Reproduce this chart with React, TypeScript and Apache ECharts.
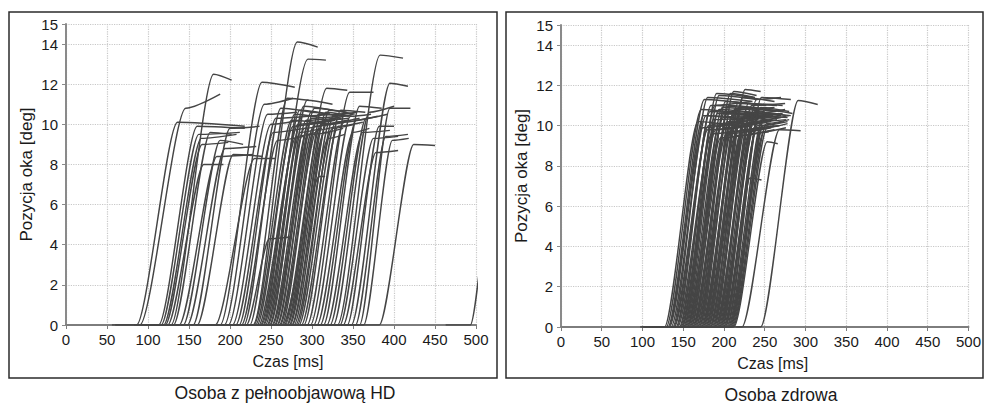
import React, { useEffect, useRef } from "react";
import * as echarts from "echarts";

// Axis ranges / ticks
const X_MIN = 0;
const X_MAX = 500;
const X_STEP = 50;
const Y_MIN = 0;
const Y_MAX = 15;
const Y_STEP = 2;

const X_NAME = "Czas [ms]";
const Y_NAME = "Pozycja oka [deg]";
const PANEL_TITLES = ["Osoba z pełnoobjawową HD", "Osoba zdrowa"];

// Each saccade trace: [onset ms, peak time ms, peak deg, end time ms, end deg]
const HD_TRACES: number[][] = [
  [86, 136, 10.1, 218, 9.9],
  [90, 146, 10.8, 188, 11.5],
  [113, 160, 9.9, 218, 9.8],
  [116, 162, 9.5, 212, 9.6],
  [119, 165, 9.3, 208, 9.5],
  [121, 166, 9.0, 198, 9.1],
  [124, 168, 8.0, 192, 8.0],
  [128, 180, 12.5, 202, 12.2],
  [131, 176, 9.6, 202, 9.5],
  [138, 184, 8.4, 228, 8.5],
  [143, 188, 9.2, 216, 9.0],
  [148, 194, 8.8, 232, 8.9],
  [155, 200, 9.8, 236, 9.9],
  [160, 204, 8.5, 240, 8.4],
  [182, 230, 8.3, 256, 8.3],
  [188, 239, 12.1, 279, 11.85],
  [193, 242, 11.0, 277, 11.3],
  [198, 246, 10.5, 282, 10.6],
  [203, 250, 10.0, 286, 10.2],
  [207, 253, 9.6, 290, 9.8],
  [211, 256, 10.3, 295, 10.4],
  [214, 258, 9.2, 290, 9.4],
  [217, 262, 10.8, 300, 10.6],
  [220, 248, 4.3, 275, 4.4],
  [224, 270, 11.3, 296, 11.2],
  [228, 282, 14.1, 307, 13.85],
  [229, 275, 10.2, 320, 10.0],
  [231, 277, 9.9, 310, 10.1],
  [233, 279, 10.5, 315, 10.3],
  [235, 281, 9.4, 305, 9.6],
  [237, 283, 10.0, 320, 10.2],
  [238, 295, 13.25, 317, 13.2],
  [240, 285, 10.7, 322, 10.5],
  [241, 286, 9.6, 312, 9.8],
  [243, 288, 10.4, 322, 10.5],
  [245, 290, 10.9, 325, 10.7],
  [246, 291, 9.8, 318, 10.0],
  [248, 293, 10.2, 330, 10.3],
  [249, 294, 11.2, 325, 11.0],
  [251, 296, 10.0, 328, 10.2],
  [252, 297, 9.5, 322, 9.6],
  [254, 299, 10.6, 335, 10.4],
  [255, 300, 10.3, 332, 10.4],
  [257, 302, 9.9, 340, 10.1],
  [258, 303, 10.8, 342, 10.6],
  [260, 305, 10.1, 336, 10.3],
  [261, 306, 9.7, 330, 9.9],
  [263, 308, 10.5, 345, 10.4],
  [264, 309, 7.4, 316, 7.4],
  [266, 311, 10.0, 344, 10.2],
  [267, 318, 11.8, 343, 11.7],
  [269, 314, 10.2, 345, 10.3],
  [270, 315, 9.6, 338, 9.8],
  [272, 317, 10.6, 348, 10.4],
  [273, 318, 10.0, 345, 10.2],
  [275, 320, 9.3, 340, 9.5],
  [276, 321, 10.7, 352, 10.5],
  [278, 323, 10.3, 350, 10.5],
  [280, 325, 9.8, 352, 10.0],
  [282, 327, 10.5, 355, 10.6],
  [284, 329, 10.1, 358, 10.3],
  [287, 332, 9.9, 362, 10.1],
  [290, 335, 10.7, 365, 10.6],
  [294, 339, 10.1, 368, 10.3],
  [298, 346, 11.6, 375, 11.6],
  [302, 347, 10.4, 372, 10.5],
  [306, 350, 9.6, 370, 9.8],
  [310, 354, 10.2, 380, 10.4],
  [314, 358, 10.9, 385, 10.8],
  [318, 362, 9.6, 395, 9.7],
  [322, 366, 10.3, 392, 10.5],
  [326, 370, 10.6, 400, 10.9],
  [331, 383, 13.45, 411, 13.3],
  [334, 375, 9.3, 405, 9.4],
  [338, 378, 8.6, 405, 8.7],
  [343, 382, 9.9, 400, 9.9],
  [348, 395, 12.05, 417, 11.9],
  [353, 390, 9.4, 417, 9.5],
  [358, 395, 10.8, 420, 10.8],
  [363, 398, 9.2, 418, 9.3],
  [382, 424, 9.0, 450, 8.95],
  [493, 525, 9.0, 540, 9.0],
];

const HEALTHY_TRACES: number[][] = [
  [127, 168, 10.2, 214, 10.0],
  [129, 172, 10.8, 222, 10.6],
  [131, 176, 11.3, 228, 11.1],
  [132, 175, 10.5, 224, 10.3],
  [133, 174, 9.9, 218, 10.1],
  [135, 178, 10.5, 230, 10.4],
  [137, 180, 11.4, 235, 11.2],
  [138, 180, 9.8, 230, 10.0],
  [139, 181, 10.0, 226, 10.2],
  [141, 183, 10.7, 236, 10.5],
  [142, 184, 11.0, 233, 11.2],
  [143, 185, 9.6, 230, 9.8],
  [145, 187, 10.3, 240, 10.4],
  [146, 189, 11.0, 242, 10.8],
  [147, 190, 10.1, 238, 10.3],
  [148, 190, 9.8, 235, 10.0],
  [149, 191, 11.6, 236, 11.4],
  [150, 192, 10.6, 245, 10.5],
  [151, 194, 11.5, 240, 11.3],
  [152, 194, 10.8, 246, 10.6],
  [153, 195, 10.1, 242, 10.3],
  [154, 196, 9.4, 238, 9.6],
  [155, 197, 10.0, 244, 10.2],
  [156, 198, 10.9, 250, 10.7],
  [157, 199, 10.4, 246, 10.5],
  [158, 200, 10.6, 250, 10.4],
  [159, 201, 9.9, 244, 10.1],
  [160, 202, 11.2, 252, 11.0],
  [161, 203, 9.6, 246, 9.8],
  [162, 204, 10.2, 248, 10.4],
  [163, 205, 10.7, 255, 10.6],
  [164, 206, 11.0, 256, 10.8],
  [165, 207, 9.7, 250, 9.9],
  [166, 208, 11.6, 238, 11.4],
  [167, 209, 10.3, 254, 10.5],
  [168, 210, 10.5, 258, 10.4],
  [169, 211, 10.0, 252, 10.2],
  [170, 212, 11.7, 240, 11.5],
  [171, 213, 10.8, 262, 10.9],
  [172, 214, 9.5, 255, 9.7],
  [173, 215, 10.1, 258, 10.3],
  [174, 216, 10.3, 260, 10.5],
  [175, 217, 11.1, 265, 11.0],
  [176, 218, 10.9, 264, 10.7],
  [177, 219, 10.0, 258, 10.2],
  [178, 220, 10.6, 266, 10.4],
  [179, 221, 10.4, 262, 10.6],
  [180, 222, 9.8, 262, 10.0],
  [181, 223, 11.4, 262, 11.2],
  [182, 224, 9.7, 258, 9.9],
  [183, 225, 10.4, 268, 10.6],
  [184, 226, 11.8, 245, 11.7],
  [185, 227, 10.6, 270, 10.5],
  [186, 228, 10.1, 265, 10.3],
  [187, 229, 10.9, 270, 10.7],
  [188, 230, 11.1, 272, 11.0],
  [189, 231, 9.6, 262, 9.8],
  [190, 232, 10.5, 272, 10.6],
  [191, 233, 10.3, 270, 10.5],
  [192, 234, 11.0, 275, 11.1],
  [193, 235, 10.2, 270, 10.4],
  [194, 236, 9.8, 266, 10.0],
  [195, 237, 9.9, 268, 10.0],
  [196, 238, 10.7, 276, 10.5],
  [197, 239, 10.6, 275, 10.8],
  [198, 240, 11.3, 270, 11.4],
  [199, 241, 10.0, 274, 10.2],
  [200, 242, 10.2, 276, 10.3],
  [201, 243, 10.5, 278, 10.4],
  [202, 232, 7.4, 246, 7.3],
  [203, 245, 10.9, 280, 10.7],
  [204, 246, 11.4, 282, 11.3],
  [205, 247, 10.3, 280, 10.5],
  [206, 248, 10.0, 278, 10.2],
  [207, 249, 9.7, 276, 9.9],
  [208, 250, 10.8, 284, 10.6],
  [209, 251, 10.6, 282, 10.5],
  [210, 252, 10.1, 280, 10.3],
  [211, 253, 9.9, 278, 10.1],
  [212, 253, 9.2, 266, 9.1],
  [222, 268, 9.8, 294, 9.75],
  [245, 291, 11.25, 315, 11.05],
];

const BASELINE_LEAD = 30; // ms of flat signal drawn before each onset

const FONT = "'Liberation Sans', Arial, Helvetica, sans-serif";
const LINE_COLOR = "#454545";

const GRIDS = [
  { left: 66, top: 24, width: 410, height: 301 },
  { left: 561, top: 25, width: 411, height: 302 },
];
const BOXES = [
  { x: 9, y: 12, width: 488, height: 366 },
  { x: 506, y: 12, width: 477, height: 366 },
];
const TITLE_POS = [
  { x: 285, y: 393 },
  { x: 781, y: 395 },
];
const XNAME_PAD = [34, 16];

function tracePoints(c: number[]) {
  return [
    [c[0] - BASELINE_LEAD, 0],
    [c[0], 0],
    [c[1], c[2]],
    [c[3], c[4]],
  ];
}

function buildOption() {
  const xAxes = GRIDS.map((_, i) => ({
    type: "value",
    gridIndex: i,
    min: X_MIN,
    max: X_MAX,
    interval: X_STEP,
    name: X_NAME,
    nameLocation: "middle",
    nameGap: 28,
    nameTextStyle: {
      fontFamily: FONT,
      fontSize: 16,
      color: "#1a1a1a",
      padding: [0, 0, 0, XNAME_PAD[i]],
    },
    axisLine: { show: true, lineStyle: { color: "#7d7d7d", width: 2 } },
    axisTick: { show: true, inside: false, length: 4, lineStyle: { color: "#7d7d7d", width: 1 } },
    axisLabel: { fontFamily: FONT, fontSize: 15, color: "#1a1a1a", margin: 7 },
    splitLine: { show: true, lineStyle: { color: "#c8c8c8", width: 1.2, type: "dotted" } },
  }));
  const yAxes = GRIDS.map((_, i) => ({
    type: "value",
    gridIndex: i,
    min: Y_MIN,
    max: Y_MAX,
    interval: Y_STEP,
    name: Y_NAME,
    nameLocation: "middle",
    nameGap: 31,
    nameTextStyle: { fontFamily: FONT, fontSize: 17, color: "#1a1a1a" },
    axisLine: { show: true, lineStyle: { color: "#8a8a8a", width: 2 } },
    axisTick: { show: true, inside: false, length: 4, lineStyle: { color: "#8a8a8a", width: 1 } },
    axisLabel: { fontFamily: FONT, fontSize: 15, color: "#1a1a1a", margin: 8, showMaxLabel: true },
    splitLine: { show: true, lineStyle: { color: "#c8c8c8", width: 1.2, type: "dotted" } },
  }));

  const series: any[] = [];
  [HD_TRACES, HEALTHY_TRACES].forEach((traces, i) => {
    traces.forEach((c) => {
      series.push({
        type: "line",
        xAxisIndex: i,
        yAxisIndex: i,
        data: tracePoints(c),
        symbol: "none",
        showSymbol: false,
        smooth: 0.25,
        smoothMonotone: "x",
        clip: true,
        silent: true,
        lineStyle: { color: LINE_COLOR, width: 1.45 },
        emphasis: { disabled: true },
      });
    });
  });

  const graphic: any[] = [];
  BOXES.forEach((b) => {
    graphic.push({
      type: "rect",
      silent: true,
      z: 0,
      shape: { x: b.x, y: b.y, width: b.width, height: b.height },
      style: { fill: "none", stroke: "#2b2b2b", lineWidth: 1.5 },
    });
  });
  PANEL_TITLES.forEach((t, i) => {
    graphic.push({
      type: "text",
      silent: true,
      x: TITLE_POS[i].x,
      y: TITLE_POS[i].y,
      style: {
        text: t,
        fontFamily: FONT,
        fontSize: 17.5,
        fill: "#1a1a1a",
        align: "center",
        verticalAlign: "middle",
      },
    });
  });

  return {
    animation: false,
    backgroundColor: "#ffffff",
    grid: GRIDS.map((g) => ({ ...g, containLabel: false })),
    xAxis: xAxes,
    yAxis: yAxes,
    series,
    graphic,
  };
}

export default function App() {
  const ref = useRef<HTMLDivElement>(null);
  useEffect(() => {
    if (!ref.current) return;
    const chart = echarts.init(ref.current, undefined, { renderer: "svg" });
    chart.setOption(buildOption() as any);
    return () => chart.dispose();
  }, []);
  return (
    <div
      ref={ref}
      style={{ position: "absolute", left: 0, top: 0, width: 984, height: 405, background: "#fff" }}
    />
  );
}
